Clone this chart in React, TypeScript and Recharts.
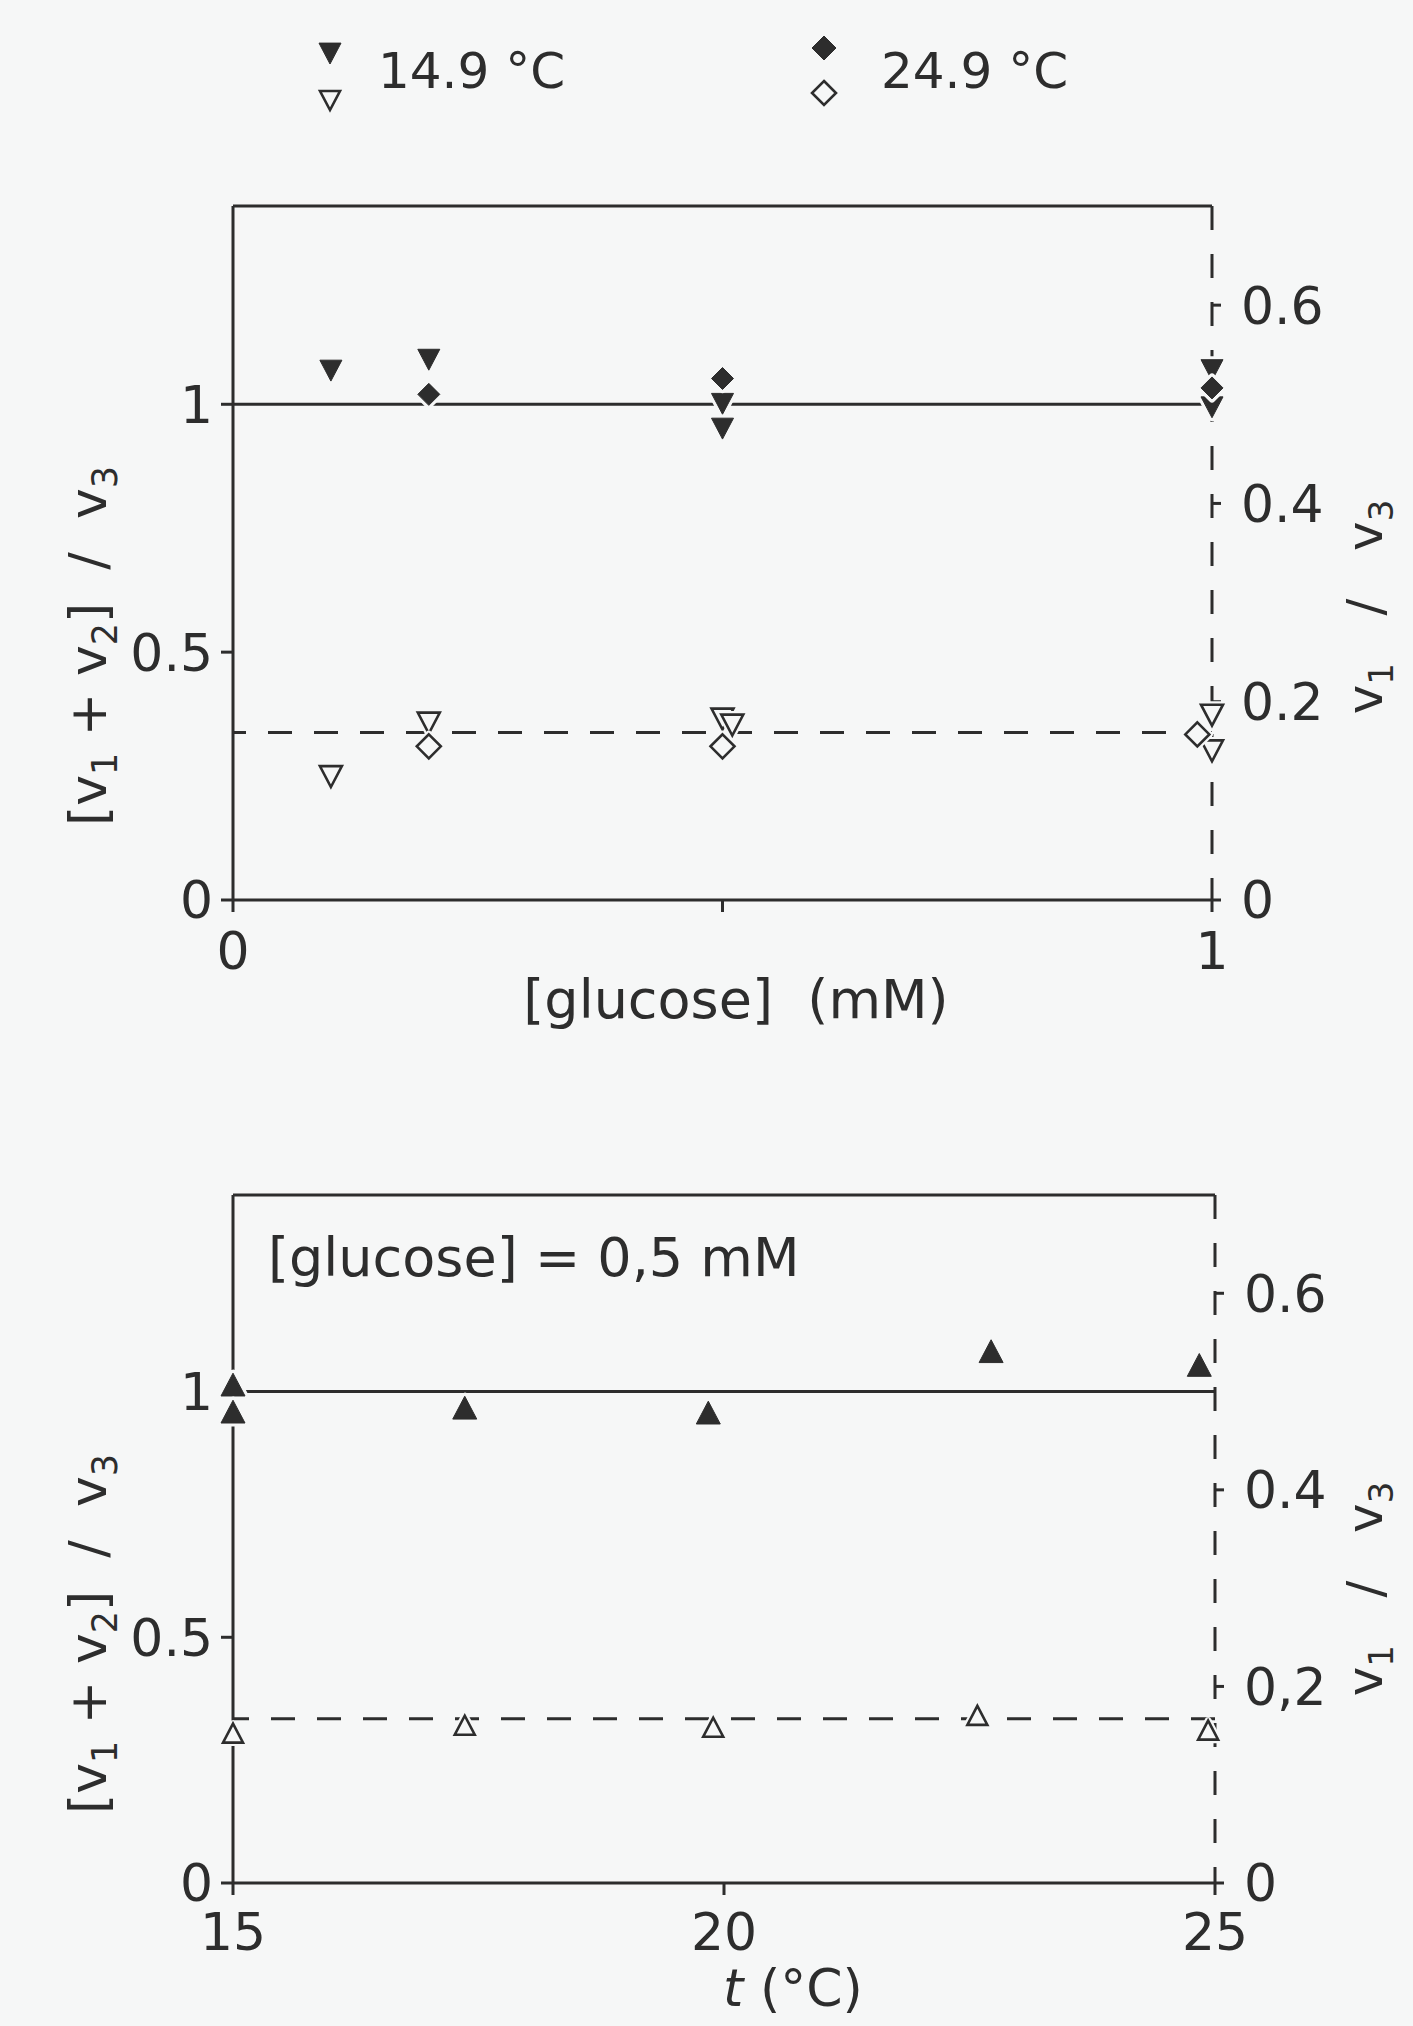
import React from 'react';
import { ScatterChart, Scatter, XAxis, YAxis, ReferenceLine } from 'recharts';

const INK = '#2d2d2d';
const BG = '#f6f7f7';
const FONT = '"DejaVu Sans", sans-serif';

// ---------- Top panel: [glucose] (mM) ----------
const glucoseTicks = [0, 0.5, 1];
const sumTicks = [0, 0.5, 1];
const ratioTicks = [0, 0.2, 0.4, 0.6];

// filled symbols: (v1+v2)/v3, left axis
const g149SumX = [0.1, 0.2, 0.5, 0.5, 1, 1];
const g149SumY = [1.069, 1.091, 1.002, 0.952, 1.07, 0.995];
const g249SumX = [0.2, 0.5, 1];
const g249SumY = [1.02, 1.052, 1.033];
// open symbols: v1/v3, right axis
const g149RatioX = [0.1, 0.2, 0.5, 0.51, 1, 1];
const g149RatioY = [0.125, 0.179, 0.183, 0.177, 0.187, 0.151];
const g249RatioX = [0.2, 0.5, 0.985];
const g249RatioY = [0.155, 0.155, 0.167];
const sumLevel = 1;
const ratioLevelTop = 0.169;

// ---------- Bottom panel: t (°C) ----------
const tempTicks = [15, 20, 25];
const tSumX = [15, 15, 17.36, 19.84, 22.72, 24.84];
const tSumY = [1.013, 0.958, 0.966, 0.956, 1.081, 1.053];
const tRatioX = [15, 17.36, 19.89, 22.58, 24.93];
const tRatioY = [0.152, 0.16, 0.158, 0.17, 0.155];
const ratioLevelBottom = 0.167;

const zip = (xs: number[], ys: number[]) => xs.map((x, i) => ({ x, y: ys[i] }));

const triPath = (cx: number, cy: number, s: number, up: boolean) =>
  up
    ? `M${cx - s},${cy + s * 0.9} L${cx + s},${cy + s * 0.9} L${cx},${cy - s} Z`
    : `M${cx - s},${cy - s * 0.9} L${cx + s},${cy - s * 0.9} L${cx},${cy + s} Z`;
const diamondPath = (cx: number, cy: number, s: number) =>
  `M${cx},${cy - s} L${cx + s},${cy} L${cx},${cy + s} L${cx - s},${cy} Z`;

const markerPath = (kind: string, cx: number, cy: number, s: number) =>
  kind === 'diamond' ? diamondPath(cx, cy, s) : triPath(cx, cy, s, kind === 'up');

function makeShape(kind: string, filled: boolean, s: number) {
  return (props: any) => {
    const { cx, cy } = props;
    if (cx == null || cy == null) return <g />;
    const d = markerPath(kind, cx, cy, s);
    return (
      <g>
        <path d={d} fill={BG} stroke={BG} strokeWidth={7} strokeLinejoin="round" />
        <path d={d} fill={filled ? INK : BG} stroke={INK} strokeWidth={filled ? 1 : 2.6} />
      </g>
    );
  };
}

const axisStyle = { stroke: INK, strokeWidth: 3 };
const tickStyle = { fill: INK, fontSize: 52, fontFamily: FONT };

function Panel(props: {
  width: number;
  height: number;
  margin: any;
  xDomain: number[];
  xTicks: number[];
  xFormat: (v: number) => string;
  rightFormat: (v: number) => string;
  xHeight: number;
  xTickMargin: number;
  rightWidth: number;
  ratioLevel: number;
  children: any;
}) {
  return (
    <ScatterChart width={props.width} height={props.height} margin={props.margin}>
      <XAxis
        xAxisId="x"
        type="number"
        dataKey="x"
        domain={props.xDomain}
        ticks={props.xTicks}
        tickFormatter={props.xFormat}
        height={props.xHeight}
        tickSize={12}
        tickMargin={props.xTickMargin}
        axisLine={axisStyle}
        tickLine={axisStyle}
        tick={tickStyle}
        interval={0}
      />
      <YAxis
        yAxisId="left"
        type="number"
        dataKey="y"
        domain={[0, 1.4]}
        ticks={sumTicks}
        width={233}
        tickSize={12}
        tickMargin={8}
        axisLine={axisStyle}
        tickLine={axisStyle}
        tick={tickStyle}
        interval={0}
      />
      <YAxis
        yAxisId="right"
        orientation="right"
        type="number"
        dataKey="y"
        domain={[0, 0.7]}
        ticks={ratioTicks}
        width={props.rightWidth}
        tickSize={9}
        tickMargin={20}
        tickFormatter={props.rightFormat}
        axisLine={{ stroke: INK, strokeWidth: 3, strokeDasharray: '24 24' }}
        tickLine={axisStyle}
        tick={tickStyle}
        interval={0}
      />
      <ReferenceLine xAxisId="x" yAxisId="left" y={1.4} stroke={INK} strokeWidth={3} />
      <ReferenceLine xAxisId="x" yAxisId="left" y={sumLevel} stroke={INK} strokeWidth={3} />
      <ReferenceLine
        xAxisId="x"
        yAxisId="right"
        y={props.ratioLevel}
        stroke={INK}
        strokeWidth={3}
        strokeDasharray="24 22"
      />
      {props.children}
    </ScatterChart>
  );
}

function RotLabel({ x, y, parts, size }: { x: number; y: number; parts: [string, boolean][]; size: number }) {
  const subSize = Math.round(size * 0.68);
  const shift = Math.round(size * 0.22);
  const out: any[] = [];
  let down = false;
  parts.forEach(([t, sub], i) => {
    let dy = 0;
    if (sub && !down) {
      dy = shift;
      down = true;
    } else if (!sub && down) {
      dy = -shift;
      down = false;
    }
    out.push(
      <tspan key={i} dy={dy} fontSize={sub ? subSize : size} style={{ whiteSpace: 'pre' }}>
        {t}
      </tspan>
    );
  });
  return (
    <text
      x={x}
      y={y}
      transform={`rotate(-90 ${x} ${y})`}
      textAnchor="middle"
      fill={INK}
      fontFamily={FONT}
      fontSize={size}
      style={{ whiteSpace: 'pre' }}
    >
      {out}
    </text>
  );
}

const sumLabel: [string, boolean][] = [
  ['[v', false],
  ['1', true],
  [' + v', false],
  ['2', true],
  [']  /  v', false],
  ['3', true],
];
const ratioLabel: [string, boolean][] = [
  ['v', false],
  ['1', true],
  ['   /   v', false],
  ['3', true],
];

export default function App() {
  const fmt = (v: number) => String(v);
  return (
    <div style={{ position: 'absolute', left: 0, top: 0, width: 1413, height: 2026, background: BG, overflow: 'hidden' }}>
      <div style={{ position: 'absolute', left: 0, top: 0 }}>
        <Panel
          width={1413}
          height={1040}
          margin={{ top: 206, right: 51, bottom: 20, left: 0 }}
          xDomain={[0, 1]}
          xTicks={glucoseTicks}
          xFormat={(v) => (v === 0.5 ? '' : String(v))}
          rightFormat={fmt}
          xHeight={120}
          xTickMargin={20}
          rightWidth={150}
          ratioLevel={ratioLevelTop}
        >
          <Scatter xAxisId="x" yAxisId="right" data={zip(g149RatioX, g149RatioY)} shape={makeShape('down', false, 11)} isAnimationActive={false} />
          <Scatter xAxisId="x" yAxisId="right" data={zip(g249RatioX, g249RatioY)} shape={makeShape('diamond', false, 12)} isAnimationActive={false} />
          <Scatter xAxisId="x" yAxisId="left" data={zip(g149SumX, g149SumY)} shape={makeShape('down', true, 11)} isAnimationActive={false} />
          <Scatter xAxisId="x" yAxisId="left" data={zip(g249SumX, g249SumY)} shape={makeShape('diamond', true, 11)} isAnimationActive={false} />
        </Panel>
      </div>
      <div style={{ position: 'absolute', left: 0, top: 1040 }}>
        <Panel
          width={1413}
          height={986}
          margin={{ top: 155, right: 48, bottom: 20, left: 0 }}
          xDomain={[15, 25]}
          xTicks={tempTicks}
          xFormat={fmt}
          rightFormat={(v) => (v === 0.2 ? '0,2' : String(v))}
          xHeight={123}
          xTickMargin={18}
          rightWidth={150}
          ratioLevel={ratioLevelBottom}
        >
          <Scatter xAxisId="x" yAxisId="right" data={zip(tRatioX, tRatioY)} shape={makeShape('up', false, 10)} isAnimationActive={false} />
          <Scatter xAxisId="x" yAxisId="left" data={zip(tSumX, tSumY)} shape={makeShape('up', true, 12)} isAnimationActive={false} />
        </Panel>
      </div>
      <svg
        width={1413}
        height={2026}
        style={{ position: 'absolute', left: 0, top: 0, pointerEvents: 'none' }}
      >
        {/* legend */}
        <path d={triPath(330, 53, 11, false)} fill={INK} stroke={INK} strokeWidth={1} />
        <path d={triPath(330, 100, 10, false)} fill={BG} stroke={INK} strokeWidth={2.6} />
        <text x={378} y={88} fill={INK} fontFamily={FONT} fontSize={50} style={{ whiteSpace: 'pre' }}>
          14.9 °C
        </text>
        <path d={diamondPath(824, 48, 12)} fill={INK} stroke={INK} strokeWidth={1} />
        <path d={diamondPath(824, 93, 12)} fill={BG} stroke={INK} strokeWidth={2.6} />
        <text x={881} y={88} fill={INK} fontFamily={FONT} fontSize={50} style={{ whiteSpace: 'pre' }}>
          24.9 °C
        </text>

        {/* top panel titles */}
        <text x={736} y={1018} textAnchor="middle" fill={INK} fontFamily={FONT} fontSize={54} style={{ whiteSpace: 'pre' }}>
          [glucose]  (mM)
        </text>
        <RotLabel x={106} y={646} parts={sumLabel} size={52} />
        <RotLabel x={1382} y={607} parts={ratioLabel} size={50} />

        {/* bottom panel titles */}
        <text x={268} y={1276} fill={INK} fontFamily={FONT} fontSize={54} style={{ whiteSpace: 'pre' }}>
          [glucose] = 0,5 mM
        </text>
        <text x={723} y={2006} fill={INK} fontFamily={FONT} fontSize={52} style={{ whiteSpace: 'pre' }}>
          <tspan fontStyle="italic">t</tspan> (°C)
        </text>
        <RotLabel x={106} y={1634} parts={sumLabel} size={52} />
        <RotLabel x={1382} y={1589} parts={ratioLabel} size={50} />
      </svg>
    </div>
  );
}
